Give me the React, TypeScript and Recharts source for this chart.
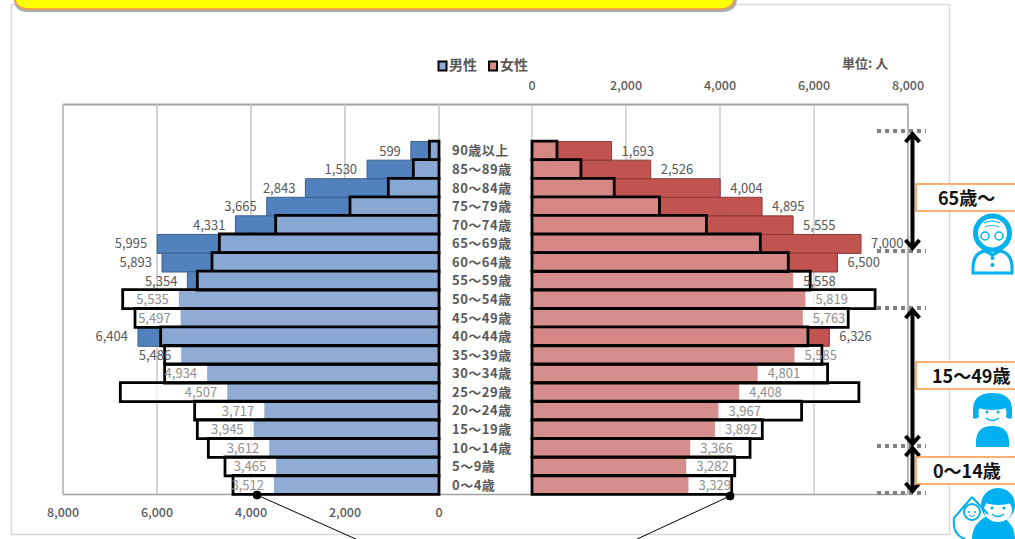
import React from "react";
import { BarChart, Bar, XAxis, YAxis, CartesianGrid, Cell, LabelList } from "recharts";

const FONT = '"Noto Sans CJK JP", "Noto Sans", sans-serif';
const blankRows = [" ", "  "];
const ageGroups = ["90歳以上","85～89歳","80～84歳","75～79歳","70～74歳","65～69歳","60～64歳","55～59歳","50～54歳","45～49歳","40～44歳","35～39歳","30～34歳","25～29歳","20～24歳","15～19歳","10～14歳","5～9歳","0～4歳"];
const maleLabeled = [599,1530,2843,3665,4331,5995,5893,5354,5535,5497,6404,5486,4934,4507,3717,3945,3612,3465,3512];
const maleOutline = [205,546,1078,1894,3475,4674,4830,5142,6730,6468,5922,5837,5837,6780,5199,5142,4908,4553,4383];
const femaleLabeled = [1693,2526,4004,4895,5555,7000,6500,5558,5819,5763,6326,5585,4801,4408,3967,3892,3366,3282,3329];
const femaleOutline = [531,1041,1749,2712,3711,4858,5453,5920,7300,6728,5871,6168,6289,6955,5736,4900,4639,4313,4249];
const axisTicks = [0,2000,4000,6000,8000];

const buildRows = (labeled: number[], outline: number[]) => [
  ...blankRows.map((age) => ({ age, labeled: null, outline: null })),
  ...ageGroups.map((age, i) => ({ age, labeled: labeled[i], outline: outline[i] })),
];
const maleRows = buildRows(maleLabeled, maleOutline);
const femaleRows = buildRows(femaleLabeled, femaleOutline);

const tickStyle = { fontFamily: FONT, fontSize: 12.5, fontWeight: 500, fill: "#595959" };

function makeLabel(rows: any[], side: "left" | "right") {
  return (p: any) => {
    const row = rows.find((r) => r.labeled === Number(p.value));
    if (!row) return null;
    const a = Number(p.x), b = Number(p.x) + Number(p.width);
    const washed = row.outline - row.labeled > 500;
    const x = side === "left" ? Math.min(a, b) - 10 : Math.max(a, b) + 10;
    return (
      <text x={x} y={Number(p.y) + Number(p.height) / 2 + 4.5} textAnchor={side === "left" ? "end" : "start"}
        fontFamily={FONT} fontSize={13} fill={washed ? "#8f8f8f" : "#595959"}>
        {Number(row.labeled).toLocaleString("en-US")}
      </text>
    );
  };
}

const CategoryTick = (p: any) => (
  <text x={p.x - 80} y={p.y + 5} textAnchor="start" fontFamily={FONT} fontSize={13} fontWeight={700} letterSpacing={0.5} fill="#595959">
    {p.payload.value}
  </text>
);

function Pyramid({ rows, side, dark, light, edge }: { rows: any[]; side: "left" | "right"; dark: string; light: string; edge: string }) {
  const isLeft = side === "left";
  const margin = isLeft
    ? { top: 104, left: 63, right: 576, bottom: 15 }
    : { top: 74, left: 439, right: 107, bottom: 45 };
  return (
    <BarChart
      width={1015} height={539} data={rows} layout="vertical" margin={margin}
      barCategoryGap={0} barGap="-100%"
      style={{ position: "absolute", left: 0, top: 0 }}
    >
      <CartesianGrid horizontal={false} stroke={isLeft ? "#c4c4c4" : "#b4b4b4"} strokeWidth={isLeft ? 1.5 : 1} />
      <XAxis
        type="number" domain={[0, 8000]} ticks={axisTicks} reversed={isLeft}
        orientation={isLeft ? "bottom" : "top"} height={30}
        axisLine={false} tickLine={false} tick={tickStyle} tickMargin={8} interval={0}
        tickFormatter={(v: number) => v.toLocaleString("en-US")}
      />
      <YAxis
        type="category" dataKey="age" hide={isLeft} width={93} interval={0}
        axisLine={false} tickLine={false} tickSize={0} tickMargin={0}
        tick={isLeft ? undefined : CategoryTick}
      />
      <Bar dataKey="outline" isAnimationActive={false}>
        {rows.map((r, i) => <Cell key={i} fill="#ffffff" fillOpacity={r.outline > r.labeled ? 0.7 : 0} />)}
      </Bar>
      <Bar dataKey="labeled" isAnimationActive={false}>
        {rows.map((r, i) => {
          const over = r.labeled > r.outline;
          return <Cell key={i} fill={over ? dark : light} fillOpacity={0.96} stroke={over ? edge : "none"} strokeWidth={1} />;
        })}
        <LabelList dataKey="labeled" content={makeLabel(rows, side)} />
      </Bar>
      <Bar dataKey="outline" isAnimationActive={false}>
        {rows.map((r, i) => (
          <Cell key={i} fill={light} fillOpacity={r.labeled > r.outline ? 0.96 : 0} stroke="#000000" strokeWidth={2.8} />
        ))}
      </Bar>
    </BarChart>
  );
}

const CYAN = "#00B0F0";
const Arrow = ({ x, y1, y2 }: { x: number; y1: number; y2: number }) => (
  <g stroke="#000" strokeWidth={4} fill="none">
    <line x1={x} y1={y1} x2={x} y2={y2} />
    <polyline points={`${x - 7},${y1 + 8} ${x},${y1} ${x + 7},${y1 + 8}`} />
    <polyline points={`${x - 7},${y2 - 8} ${x},${y2} ${x + 7},${y2 - 8}`} />
  </g>
);
const AgeBox = ({ y, h, text, tx }: { y: number; h: number; text: string; tx: number }) => (
  <g>
    <rect x={916} y={y} width={120} height={h} fill="#fff" stroke="#F79646" strokeWidth={1.5} />
    <text x={tx} y={y + h / 2 + 7} fontFamily={FONT} fontSize={18} fontWeight={700} fill="#111">{text}</text>
  </g>
);

const Backdrop = () => (
  <svg width={1015} height={539} style={{ position: "absolute", left: 0, top: 0 }}>
    <rect x={11.5} y={4.5} width={938} height={530} fill="#fff" stroke="#d9d9d9" strokeWidth={1.5} />
    <path d="M14,-20 H737 V-2 Q737,12 722,12 H27 Q14,12 14,-2 Z" fill="#777" opacity={0.6} />
    <path d="M14,-20 H735 V-6 Q735,9 720,9 H29 Q14,9 14,-6 Z" fill="#FFFF00" stroke="#F79646" strokeWidth={1.5} />
    <line x1={63} y1={104.5} x2={908} y2={104.5} stroke="#a0a0a0" strokeWidth={2} />
    <line x1={63} y1={104} x2={63} y2={494} stroke="#a0a0a0" strokeWidth={1.5} />
    <line x1={908} y1={104} x2={908} y2={494} stroke="#a0a0a0" strokeWidth={1.5} />
    <line x1={63} y1={494.5} x2={908} y2={494.5} stroke="#a0a0a0" strokeWidth={1.5} />
  </svg>
);

const Overlay = () => (
  <svg width={1015} height={539} style={{ position: "absolute", left: 0, top: 0 }}>
    <rect x={438.5} y={61.5} width={8} height={9} fill="#8EACD5" stroke="#000" strokeWidth={2} />
    <text x={449} y={70} fontFamily={FONT} fontSize={14} fontWeight={700} fill="#595959">男性</text>
    <rect x={489} y={61.5} width={8} height={9} fill="#D68C8A" stroke="#000" strokeWidth={2} />
    <text x={500} y={70} fontFamily={FONT} fontSize={14} fontWeight={700} fill="#595959">女性</text>
    <text x={842} y={68} fontFamily={FONT} fontSize={13} fontWeight={700} fill="#595959">単位: 人</text>

    <g stroke="#000" strokeWidth={1} fill="#000">
      <line x1={257} y1={495} x2={358} y2={540} />
      <line x1={730} y1={496} x2={635} y2={540} />
      <circle cx={257} cy={495} r={4} />
      <circle cx={730} cy={496} r={4} />
    </g>

    <g stroke="#808080" strokeWidth={4} strokeDasharray="4 4">
      {[131, 251, 308, 446, 493].map((y) => <line key={y} x1={877} y1={y} x2={926} y2={y} />)}
    </g>
    <Arrow x={912.5} y1={134} y2={248} />
    <Arrow x={912.5} y1={310} y2={444} />
    <Arrow x={912.5} y1={448} y2={491} />

    <AgeBox y={184} h={27} text="65歳～" tx={938} />
    <AgeBox y={362} h={27} text="15～49歳" tx={932} />
    <AgeBox y={457} h={27} text="0～14歳" tx={933} />

    {/* elder */}
    <circle cx={992.5} cy={233} r={17} fill="#fff" stroke={CYAN} strokeWidth={5} />
    <circle cx={985} cy={236} r={4} fill="none" stroke={CYAN} strokeWidth={1.5} />
    <circle cx={999} cy={236} r={4} fill="none" stroke={CYAN} strokeWidth={1.5} />
    <path d="M984,246 Q992,252 1000,246" fill="none" stroke={CYAN} strokeWidth={1.5} />
    <path d="M984,223 Q992,219 1000,223 M985,227 Q992,224 999,227" fill="none" stroke={CYAN} strokeWidth={1.2} />
    <path d="M973,273 V268 Q973,253 985,251 L992.5,255 L1000,251 Q1012,253 1012,268 V273 Z" fill="#fff" stroke={CYAN} strokeWidth={3} />
    <circle cx={992.5} cy={258} r={2} fill={CYAN} /><circle cx={992.5} cy={265} r={2} fill={CYAN} />

    {/* adult */}
    <path d="M973,418 V410 Q973,393 992.5,393 Q1012,393 1012,410 V418 Q1008,420 1005,416 L980,416 Q977,420 973,418 Z" fill={CYAN} />
    <ellipse cx={992.5} cy={413} rx={14} ry={13} fill="#fff" />
    <path d="M978,408 Q992,412 1007,408 Q1005,396 992,396 Q980,396 978,408 Z" fill={CYAN} />
    <circle cx={987} cy={412} r={1.5} fill={CYAN} /><circle cx={998} cy={412} r={1.5} fill={CYAN} />
    <path d="M986,418 Q992.5,423 999,418" fill="none" stroke={CYAN} strokeWidth={1.4} />
    <path d="M976,447 V442 Q976,426 992.5,426 Q1009,426 1009,442 V447 Z" fill={CYAN} />

    {/* mother and child */}
    <path d="M1003,517 Q1015,525 1015,539 L972,539 Q972,525 985,517 Z" fill={CYAN} />
    <circle cx={998} cy={505} r={17} fill={CYAN} />
    <ellipse cx={998} cy={510} rx={14} ry={12} fill="#fff" />
    <path d="M985,503 Q998,507 1012,503 Q1008,493 998,493 Q988,493 985,503 Z" fill={CYAN} />
    <circle cx={992} cy={508} r={1.6} fill={CYAN} /><circle cx={1004} cy={508} r={1.6} fill={CYAN} />
    <path d="M992,514 Q998,519 1004,514" fill="none" stroke={CYAN} strokeWidth={1.4} />
    <path d="M972,497 L954,518 Q952,535 965,539 M972,497 L988,514" fill="none" stroke={CYAN} strokeWidth={2} />
    <circle cx={972} cy={512} r={8} fill="#fff" stroke={CYAN} strokeWidth={2} />
    <circle cx={969} cy={512} r={1} fill={CYAN} /><circle cx={975} cy={512} r={1} fill={CYAN} />
    <path d="M969,515 Q972,518 975,515" fill="none" stroke={CYAN} strokeWidth={1} />
  </svg>
);

export default function App() {
  return (
    <div style={{ position: "absolute", left: 0, top: 0, width: 1015, height: 539, overflow: "hidden", background: "#fff" }}>
      <Backdrop />
      <Pyramid rows={maleRows} side="left" dark="#4A7DBA" light="#8BA9D3" edge="#3b5f8a" />
      <Pyramid rows={femaleRows} side="right" dark="#BE4C49" light="#D48987" edge="#8a3a38" />
      <Overlay />
    </div>
  );
}
